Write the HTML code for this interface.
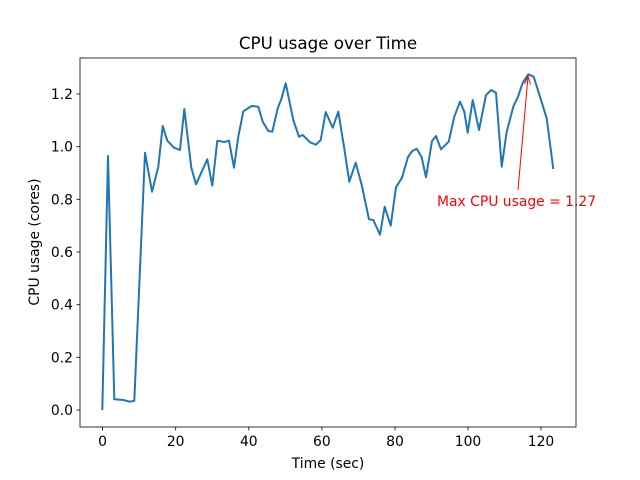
<!DOCTYPE html>
<html><head><meta charset="utf-8"><style>body{margin:0;background:#fff}svg{display:block}text{font-family:"DejaVu Sans","Liberation Sans",sans-serif}</style></head><body>
<svg width="640" height="480" xmlns="http://www.w3.org/2000/svg">
<rect width="640" height="480" fill="#fff"/>
<polyline fill="none" stroke="#1f77b4" stroke-width="2" stroke-linejoin="round" points="102.3,410 108,156 114.3,399.3 123.3,400 130,401.7 134.3,400.7 145,152.7 152,191.7 158.3,166.7 162.7,126 167.3,140.7 174,147.7 180,150 184.3,109 191.3,167.7 196,184.3 207.3,159.3 212.3,185.7 217.3,140.7 224.3,142 229,140.7 234,167.7 238.3,136.7 243.3,111.3 251.7,106 258.3,106.7 262.7,121.7 268.3,131 272.3,131.7 277.7,108.3 281.3,99.3 285.7,83.3 293.3,120 299,136.7 302.7,135 310,142.3 316,144.7 320.7,140 325.7,112 332.7,127.7 338.3,111.7 344,146.7 349.3,181.7 355.7,162.7 361.7,185 369,219.3 373.3,220 380,234.7 384.7,206.7 390.7,225.7 396,187.3 402,177.7 408,157 412.3,151 416.7,148.7 421.7,157.3 426,177.3 432,141 436,136 441,149.3 448.7,141.7 454.3,116.7 460,101.7 464.3,111.7 467.7,132.7 472.7,100 479,130 486,95 491.3,90 496,92.7 501.7,166.7 506.7,131.7 513.3,106.7 518,96.7 522.7,82.7 528.3,74.3 533.7,76.7 546.7,118.3 553.3,169"/>
<line x1="518" y1="190" x2="528" y2="77" stroke="red" stroke-width="1"/>
<path d="M524.5,84 L528,76 L530.5,84.5" fill="none" stroke="red" stroke-width="1"/>
<text x="437" y="206" font-size="13.9" fill="red">Max CPU usage = 1.27</text>
<rect x="80" y="58" width="496" height="369" fill="none" stroke="#000" stroke-width="0.8"/>
<g stroke="#000" stroke-width="0.8">
<line x1="102.6" y1="427" x2="102.6" y2="430.5"/><line x1="175.7" y1="427" x2="175.7" y2="430.5"/><line x1="248.8" y1="427" x2="248.8" y2="430.5"/><line x1="321.9" y1="427" x2="321.9" y2="430.5"/><line x1="395" y1="427" x2="395" y2="430.5"/><line x1="468" y1="427" x2="468" y2="430.5"/><line x1="541" y1="427" x2="541" y2="430.5"/>
<line x1="76.5" y1="410" x2="80" y2="410"/><line x1="76.5" y1="357.3" x2="80" y2="357.3"/><line x1="76.5" y1="304.7" x2="80" y2="304.7"/><line x1="76.5" y1="252" x2="80" y2="252"/><line x1="76.5" y1="199.3" x2="80" y2="199.3"/><line x1="76.5" y1="146.7" x2="80" y2="146.7"/><line x1="76.5" y1="94" x2="80" y2="94"/>
</g>
<g font-size="13.9" text-anchor="middle">
<text x="102.6" y="446">0</text><text x="175.7" y="446">20</text><text x="248.8" y="446">40</text><text x="321.9" y="446">60</text><text x="395" y="446">80</text><text x="468" y="446">100</text><text x="541" y="446">120</text>
</g>
<g font-size="13.9" text-anchor="end">
<text x="73" y="415">0.0</text><text x="73" y="362.3">0.2</text><text x="73" y="309.7">0.4</text><text x="73" y="257">0.6</text><text x="73" y="204.3">0.8</text><text x="73" y="151.7">1.0</text><text x="73" y="99">1.2</text>
</g>
<text x="328" y="468" font-size="13.9" text-anchor="middle">Time (sec)</text>
<text transform="translate(39,242) rotate(-90)" font-size="13.9" text-anchor="middle">CPU usage (cores)</text>
<text x="328" y="49" font-size="16.7" text-anchor="middle">CPU usage over Time</text>
</svg>
</body></html>
